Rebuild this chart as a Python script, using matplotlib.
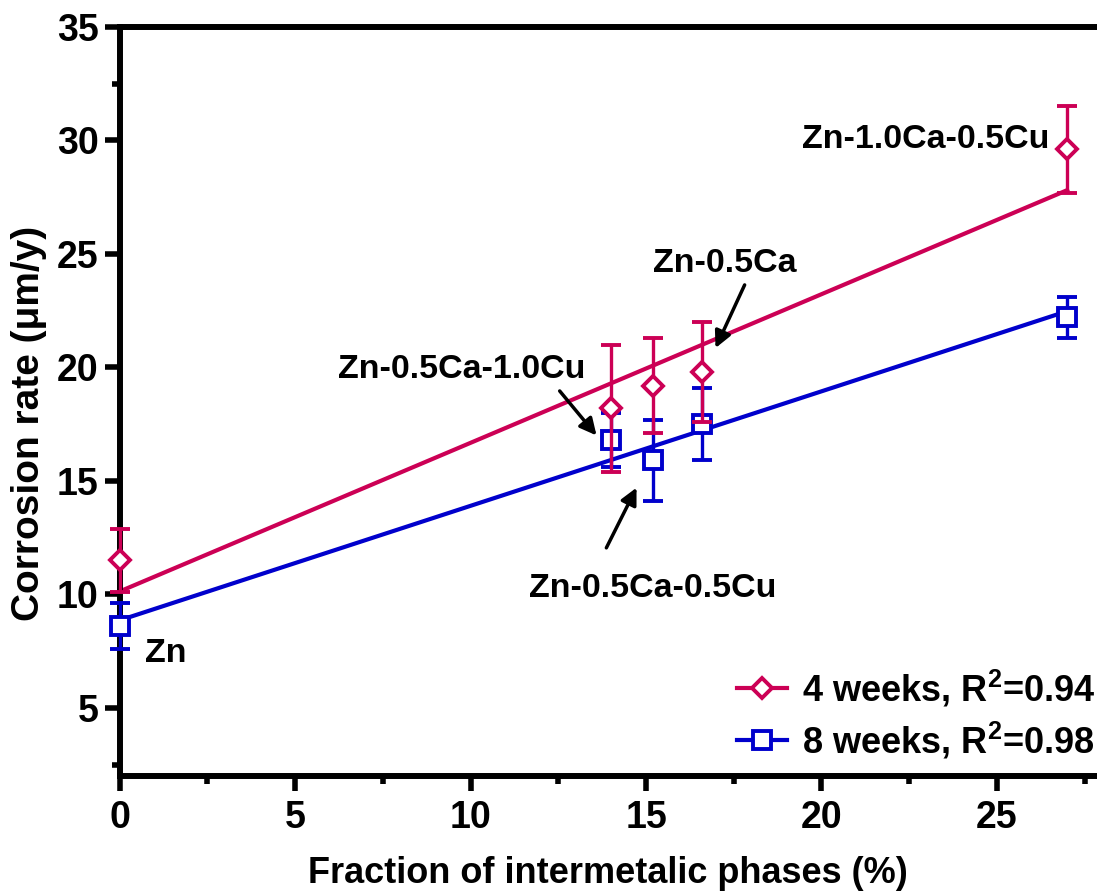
import numpy as np
import matplotlib
matplotlib.use("Agg")
import matplotlib.pyplot as plt
from matplotlib.lines import Line2D

plt.rcParams['font.family'] = ['Liberation Sans', 'DejaVu Sans']
plt.rcParams['font.weight'] = 'bold'
plt.rcParams['mathtext.fontset'] = 'custom'
plt.rcParams['mathtext.rm'] = 'Liberation Sans:bold'
plt.rcParams['mathtext.bf'] = 'Liberation Sans:bold'
plt.rcParams['mathtext.it'] = 'Liberation Sans:bold'

# fraction of intermetallic phases (%)
fraction = [0.0, 14.0, 15.2, 16.6, 27.0]
# corrosion rate after 4 weeks
rate_4w = [11.5, 18.2, 19.2, 19.8, 29.6]
err_4w = [1.4, 2.8, 2.1, 2.2, 1.9]
# corrosion rate after 8 weeks
rate_8w = [8.6, 16.8, 15.9, 17.5, 22.2]
err_8w = [1.0, 1.2, 1.8, 1.6, 0.9]

labels = ["4 weeks, R$^{2}$=0.94", "8 weeks, R$^{2}$=0.98"]

red = '#CC0055'
blue = '#0000CC'

fig = plt.figure(figsize=(10.97, 8.92), dpi=100)
ax = fig.add_axes([0.109, 0.13, 0.891, 0.84])

# linear fits
xs = np.array([min(fraction), max(fraction)])
p4 = np.polyfit(fraction, rate_4w, 1)
p8 = np.polyfit(fraction, rate_8w, 1)
ax.plot(xs, np.polyval(p8, xs), color=blue, lw=3, zorder=2, clip_on=False)
ax.plot(xs, np.polyval(p4, xs), color=red, lw=3, zorder=2, clip_on=False)

ax.errorbar(fraction, rate_8w, yerr=err_8w, fmt='s', ms=12.5, mfc='white', mec=blue,
            mew=2.8, ecolor=blue, elinewidth=2.4, capsize=7, capthick=3, zorder=3,
            clip_on=False)
ax.errorbar(fraction, rate_4w, yerr=err_4w, fmt='D', ms=10.5, mfc='white', mec=red,
            mew=2.8, ecolor=red, elinewidth=2.4, capsize=7, capthick=3, zorder=4,
            clip_on=False)

# annotations
fs = 24.5
ax.text(1.31, 7.04, "Zn", ha='center', va='baseline', fontsize=fs, fontweight='bold')
ax.text(9.75, 19.54, "Zn-0.5Ca-1.0Cu", ha='center', va='baseline', fontsize=fs, fontweight='bold')
ax.text(17.24, 24.18, "Zn-0.5Ca", ha='center', va='baseline', fontsize=fs, fontweight='bold')
ax.text(15.19, 9.88, "Zn-0.5Ca-0.5Cu", ha='center', va='baseline', fontsize=fs, fontweight='bold')
ax.text(22.96, 29.66, "Zn-1.0Ca-0.5Cu", ha='center', va='baseline', fontsize=fs, fontweight='bold')

arrow = dict(arrowstyle='-|>', color='black', lw=2.5, mutation_scale=25, shrinkA=0, shrinkB=0)
ax.annotate("", xy=(13.59, 17.0), xytext=(12.54, 18.96), arrowprops=arrow)
ax.annotate("", xy=(16.98, 20.85), xytext=(17.81, 23.63), arrowprops=arrow)
ax.annotate("", xy=(14.73, 14.70), xytext=(13.87, 12.05), arrowprops=arrow)

ax.set_xlim(0, 27.85)
ax.set_ylim(2, 35)
ax.set_xticks([0, 5, 10, 15, 20, 25])
ax.set_xticks(np.arange(2.5, 28, 5), minor=True)
ax.set_yticks([5, 10, 15, 20, 25, 30, 35])
ax.set_yticks([2.5, 32.5], minor=True)

for side in ['left', 'bottom', 'top']:
    ax.spines[side].set_linewidth(4.3)
ax.spines['right'].set_visible(False)

ax.tick_params(which='major', length=11, width=4, labelsize=27, pad=4)
ax.tick_params(which='minor', length=6, width=4)
ax.tick_params(axis='x', which='major', pad=6)
for lab in ax.get_xticklabels() + ax.get_yticklabels():
    lab.set_fontweight('bold')

ax.set_xlabel("Fraction of intermetalic phases (%)", fontsize=26, fontweight='bold', labelpad=15)
ax.set_ylabel("Corrosion rate (μm/y)", fontsize=28, fontweight='bold')
ax.yaxis.set_label_coords(-0.074, 0.47)

handles = [Line2D([], [], color=red, lw=3, marker='D', ms=10.5, mfc='white', mec=red, mew=2.8),
           Line2D([], [], color=blue, lw=3, marker='s', ms=12.5, mfc='white', mec=blue, mew=2.8)]
ax.legend(handles, labels, loc='lower right', bbox_to_anchor=(0.998, 0.02), frameon=False,
          fontsize=26, handlelength=1.4, handletextpad=0.4, labelspacing=0.3,
          borderaxespad=0.0, borderpad=0.0)

fig.savefig("out.png", dpi=100)
